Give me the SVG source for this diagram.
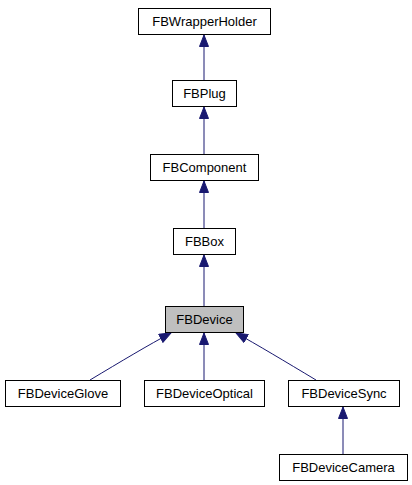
<svg xmlns="http://www.w3.org/2000/svg" width="412" height="485" viewBox="0 0 412 485">
<defs>
<style>
.node rect{fill:#ffffff;stroke:#000000;stroke-width:1}
.node.cur rect{fill:#bfbfbf}
.node text{font-family:"Liberation Sans",Arial,sans-serif;font-size:13px;fill:#000000;text-anchor:middle}
.edge{fill:none;stroke:#191970;stroke-width:1;marker-end:url(#arr)}
</style>
<marker id="arr" markerUnits="userSpaceOnUse" markerWidth="13" markerHeight="12" refX="12" refY="5" orient="auto" viewBox="0 0 13 12">
<path d="M0.5,0.5 L12,5 L0.5,9.5 z" fill="#191970" stroke="#191970" stroke-width="1"/>
</marker>
</defs>
<rect width="412" height="485" fill="#ffffff"/>
<g id="connectors">
<path class="edge" d="M204,80 L204,35"/>
<path class="edge" d="M204,154 L204,107"/>
<path class="edge" d="M204,228 L204,181"/>
<path class="edge" d="M204,306 L204,255"/>
<path class="edge" d="M90,380 C120,362 150,344 171,333"/>
<path class="edge" d="M204,380 L204,333"/>
<path class="edge" d="M316,380 C286,362 256,344 236,333"/>
<path class="edge" d="M343,454 L343,407"/>
</g>
<g id="FBWrapperHolder" class="node"><rect x="138.5" y="8.5" width="132" height="26"/><text x="204.5" y="26">FBWrapperHolder</text></g>
<g id="FBPlug" class="node"><rect x="172.5" y="80.5" width="64" height="26"/><text x="204.5" y="98">FBPlug</text></g>
<g id="FBComponent" class="node"><rect x="150.5" y="154.5" width="108" height="26"/><text x="204.5" y="172">FBComponent</text></g>
<g id="FBBox" class="node"><rect x="173.5" y="228.5" width="62" height="26"/><text x="204.5" y="246">FBBox</text></g>
<g id="FBDevice" class="node cur"><rect x="165.5" y="306.5" width="78" height="26"/><text x="204.5" y="324">FBDevice</text></g>
<g id="FBDeviceGlove" class="node"><rect x="5.5" y="380.5" width="115" height="26"/><text x="63" y="398">FBDeviceGlove</text></g>
<g id="FBDeviceOptical" class="node"><rect x="144.5" y="380.5" width="120" height="26"/><text x="204.5" y="398">FBDeviceOptical</text></g>
<g id="FBDeviceSync" class="node"><rect x="288.5" y="380.5" width="111" height="26"/><text x="344" y="398">FBDeviceSync</text></g>
<g id="FBDeviceCamera" class="node"><rect x="279.5" y="454.5" width="128" height="26"/><text x="343.5" y="472">FBDeviceCamera</text></g>
</svg>
